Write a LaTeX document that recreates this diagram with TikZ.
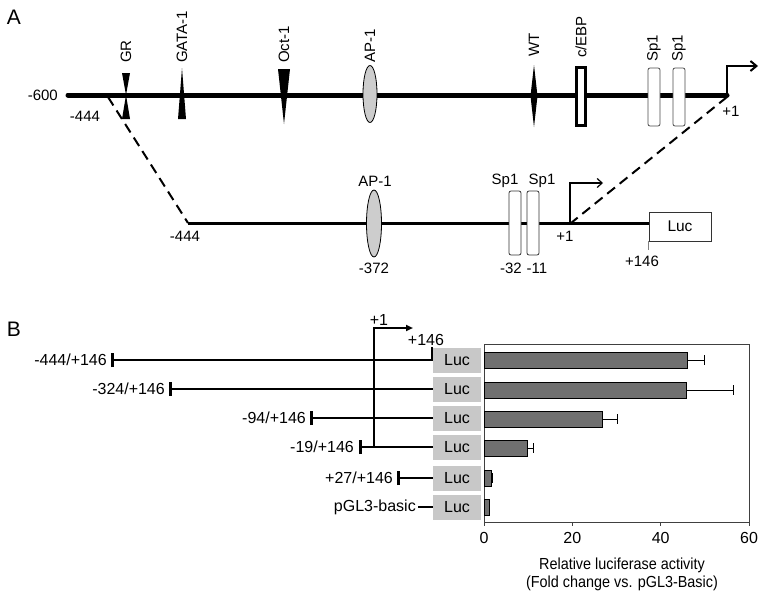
\documentclass[tikz,border=0pt]{standalone}
\usepackage{fontspec}
\setmainfont{Liberation Sans}
\usetikzlibrary{arrows.meta}
\definecolor{lucgray}{RGB}{200,200,200}
\definecolor{bargray}{RGB}{112,112,112}
\definecolor{apgray}{RGB}{205,205,205}
\begin{document}
\begin{tikzpicture}[x=1pt,y=-1pt,
  lbl/.style={inner sep=0pt,font=\fontsize{15}{17}\selectfont},
  blbl/.style={inner sep=0pt,font=\fontsize{16}{18}\selectfont},
  rlbl/.style={lbl,rotate=90,anchor=west},
  panel/.style={inner sep=0pt,font=\fontsize{21}{23}\selectfont},
  sponebox/.style={draw=black!70,fill=white,rounded corners=2pt,line width=0.8pt},
  lucbox/.style={fill=lucgray,minimum width=48pt,minimum height=25pt,inner sep=0pt,font=\fontsize{16}{18}\selectfont},
  bar/.style={draw=black,fill=bargray,line width=0.6pt},
  errbar/.style={line width=0.7pt},
  construct/.style={line width=2pt},
  endtick/.style={line width=3pt}
]
\useasboundingbox (0,0) rectangle (764,600);

% ---------------- Panel A ----------------
\node[panel] (A) at (14,17) {A};

\coordinate (m600) at (68,95);
\coordinate (mp1) at (727,95);
\draw[line width=5pt,line cap=round] (m600) -- (mp1);
\node[lbl,anchor=east] (l600) at (58,95) {-600};
\node[lbl] (l444a) at (85,116) {-444};
\node[lbl] (lp1a) at (731,111) {+1};

% GR bowtie
\fill (122,73) -- (130,73) -- (126,95) -- cycle;
\fill (122,119) -- (130,119) -- (126,95) -- cycle;
\node[rlbl] (gr) at (126,63) {GR};
% GATA-1
\fill (178,119) -- (186,119) -- (182,68) -- cycle;
\node[rlbl] (gata) at (182,63) {GATA-1};
% Oct-1
\fill (278,69) -- (290,69) -- (284,124) -- cycle;
\node[rlbl] (oct) at (284,63) {Oct-1};
% AP-1
\draw[fill=apgray,line width=0.8pt] (370,94) ellipse [x radius=7, y radius=28.5];
\node[rlbl] (ap1a) at (370,63) {AP-1};
% WT
\fill (534,65) -- (537.5,96) -- (534,127) -- (530.5,96) -- cycle;
\node[rlbl] (wt) at (534,57) {WT};
% c/EBP
\draw[line width=3pt,fill=white] (576.5,67.5) rectangle (585.5,125.5);
\node[rlbl] (cebp) at (581,58) {c/EBP};
% Sp1
\draw[sponebox] (648,68) rectangle (660,126);
\draw[sponebox] (673,68) rectangle (685,126);
\node[rlbl] (spa1) at (654,62) {Sp1};
\node[rlbl] (spa2) at (679,62) {Sp1};
% TSS arrow
\coordinate (tssA) at (727,66);
\coordinate (tssAend) at (758,66);
\draw[line width=2pt,-{Straight Barb[length=6pt,width=10pt]}] (mp1) -- (tssA) -- (tssAend);

% dashed zoom lines
\coordinate (d1a) at (108,97);
\coordinate (d1b) at (188,223);
\coordinate (d2a) at (727,97);
\coordinate (d2b) at (571,223);
\draw[line width=2pt,dash pattern=on 10pt off 6pt] (d1a) -- (d1b);
\draw[line width=2pt,dash pattern=on 10pt off 6pt] (d2a) -- (d2b);

% lower construct
\node[draw=black!80,line width=0.8pt,minimum width=62pt,minimum height=29pt,inner sep=0pt,font=\fontsize{15.5}{17}\selectfont] (lucA) at (680,226.5) {Luc};
\draw[line width=3pt] (d1b) -- (lucA.west |- d1b);
\draw[fill=apgray,line width=0.8pt] (374,223.5) ellipse [x radius=7.5, y radius=33.5];
\draw[sponebox,draw=black!80] (509,191) rectangle (521,255);
\draw[sponebox,draw=black!80] (527,191) rectangle (539,255);
\coordinate (tssB) at (570,183);
\coordinate (tssBend) at (603,183);
\draw[line width=1.2pt,-{Straight Barb[length=5pt,width=9pt]}] (570,223) -- (tssB) -- (tssBend);
\draw[black!50,line width=1pt] (lucA.south west) -- ++(0,9);

\node[lbl] (l444b) at (185,236) {-444};
\node[lbl] (ap1b) at (375,181) {AP-1};
\node[lbl] (l372) at (374,268) {-372};
\node[lbl] (spb1) at (505,181) {Sp1};
\node[lbl] (spb2) at (542,181) {Sp1};
\node[lbl] (l32) at (511,268) {-32};
\node[lbl] (l11) at (537,268) {-11};
\node[lbl] (lp1b) at (565,236) {+1};
\node[lbl] (l146b) at (642,261) {+146};

% ---------------- Panel B ----------------
\node[panel] (B) at (14,329) {B};

% Luc boxes
\foreach \y/\n in {360/1,389/2,418/3,447/4,478/5,507/6}{
  \node[lucbox] (luc\n) at (457,\y) {Luc};
}
% constructs
\coordinate (s1) at (112,360);
\coordinate (s2) at (170,389);
\coordinate (s3) at (311,418);
\coordinate (s4) at (360,447);
\coordinate (s5) at (398,478);
\coordinate (s6) at (418,507);
\draw[construct] (s1) -- (432,360) -- (432,347);
\draw[construct] (s2) -- (luc2.west);
\draw[construct] (s3) -- (luc3.west);
\draw[construct] (s4) -- (luc4.west);
\draw[construct] (s5) -- (luc5.west);
\draw[construct] (s6) -- (luc6.west);
\foreach \n in {1,...,5}{
  \draw[endtick] ([yshift=-7pt]s\n) -- ([yshift=7pt]s\n);
}
\node[blbl,anchor=east] (r1) at (107,360) {-444/+146};
\node[blbl,anchor=east] (r2) at (165,389) {-324/+146};
\node[blbl,anchor=east] (r3) at (306,418) {-94/+146};
\node[blbl,anchor=east] (r4) at (354,447) {-19/+146};
\node[blbl,anchor=east] (r5) at (393,478) {+27/+146};
\node[blbl,anchor=east] (r6) at (416,507) {pGL3-basic};

% TSS arrow B
\coordinate (tssC0) at (374,447);
\coordinate (tssC) at (374,328);
\coordinate (tssCend) at (413,328);
\draw[line width=2pt,-{Triangle[length=7pt,width=6pt]}] (tssC0) -- (tssC) -- (tssCend);
\node[blbl] (bp1) at (379,320) {+1};
\node[blbl] (bp146) at (426,340) {+146};

% chart
\draw[black!75,line width=0.8pt] (484,344) rectangle (749,522);
\foreach \v in {0,20,40,60}{
  \draw[black!75,line width=0.8pt] ({484+4.4167*\v},522) -- ({484+4.4167*\v},526);
  \node[blbl] (t\v) at ({484+4.4167*\v},538) {\v};
}
\foreach \y/\val/\err in {360/46.1/50.0, 390/45.7/56.4, 419/26.8/30.3, 448/9.9/11.2, 478/1.7/1.9, 507/1.2/1.3}{
  \draw[errbar] ({484+4.4167*\val},\y) -- ({484+4.4167*\err},\y);
  \draw[errbar] ({484+4.4167*\err},\y-5) -- ({484+4.4167*\err},\y+5);
  \draw[bar] (484,\y-8) rectangle ({484+4.4167*\val},\y+8);
}
\node[blbl,xscale=0.9] (xt1) at (622,565) {Relative luciferase activity};
\node[blbl,xscale=0.9] (xt2) at (622,583) {(Fold change vs. pGL3-Basic)};
\end{tikzpicture}
\end{document}
